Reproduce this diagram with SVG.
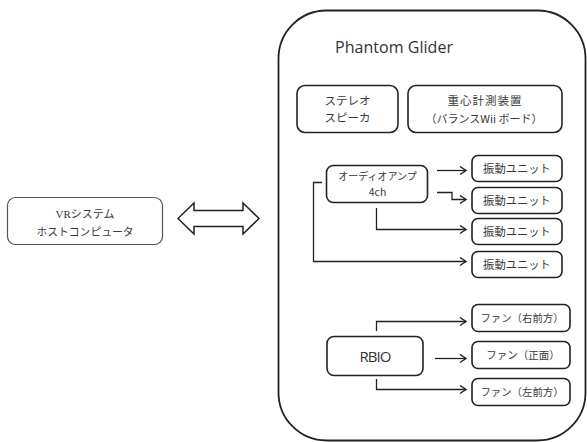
<svg xmlns="http://www.w3.org/2000/svg" width="587" height="442" viewBox="0 0 587 442">
<defs>
<style>
.box{fill:#fff;stroke:#222;stroke-width:1.6}
.t{font-family:"Noto Sans CJK JP","Noto Sans",sans-serif;fill:#3a3a3a;text-anchor:middle}
.lat{font-family:"Open Sans","Noto Sans",sans-serif;fill:#333}
.c{fill:none;stroke:#222;stroke-width:1.3}
</style>
<marker id="ah" markerWidth="10" markerHeight="10" refX="8" refY="5" orient="auto" markerUnits="userSpaceOnUse">
<path d="M2,1 L8,5 L2,9" fill="none" stroke="#222" stroke-width="1.4"/>
</marker>
</defs>
<rect width="587" height="442" fill="#fff"/>

<g id="host">
<rect x="7.5" y="197.5" width="155" height="47" rx="8" fill="#fff" stroke="#555" stroke-width="1.2"/>
<text x="85" y="218" class="t" style="font-family:'Liberation Serif','Noto Sans CJK JP',serif" font-size="11">VRシステム</text>
<text x="85" y="236" class="t" font-size="10.8">ホストコンピュータ</text>
</g>

<g id="link">
<polygon points="178,218.5 194,203 194,210.5 243,210.5 243,203 259,218.5 243,234 243,226.5 194,226.5 194,234" fill="#fff" stroke="#222" stroke-width="1.5" stroke-linejoin="miter"/>
</g>

<g id="glider">
<rect x="278.5" y="10.5" width="307" height="430" rx="48" fill="none" stroke="#222" stroke-width="1.8"/>
<text x="335" y="53" class="lat" font-size="16" textLength="118">Phantom Glider</text>
</g>

<g id="speaker">
<rect class="box" x="297" y="85.5" width="101" height="47" rx="8"/>
<text x="347.5" y="105" class="t" font-size="11.5">ステレオ</text>
<text x="347.5" y="122" class="t" font-size="11.5">スピーカ</text>
</g>

<g id="balance">
<rect class="box" x="408" y="85.5" width="154" height="47" rx="8"/>
<text x="485" y="105" class="t" font-size="11.5" letter-spacing="1">重心計測装置</text>
<text x="484" y="122.5" class="t" font-size="11">（バランスWii ボード）</text>
</g>

<g id="amp">
<rect class="box" x="326.5" y="165.5" width="101" height="37" rx="7"/>
<text x="377.5" y="180" class="t" font-size="10">オーディオアンプ</text>
<text x="377.5" y="196" class="t" font-size="10.5">4ch</text>
</g>

<g id="vib1"><rect class="box" x="472" y="155.5" width="90" height="26" rx="6"/><text x="517" y="173" class="t" font-size="11.3">振動ユニット</text></g>
<g id="vib2"><rect class="box" x="472" y="187.5" width="90" height="26" rx="6"/><text x="517" y="205" class="t" font-size="11.3">振動ユニット</text></g>
<g id="vib3"><rect class="box" x="472" y="218.5" width="90" height="26" rx="6"/><text x="517" y="236" class="t" font-size="11.3">振動ユニット</text></g>
<g id="vib4"><rect class="box" x="472" y="251.5" width="90" height="26" rx="6"/><text x="517" y="269" class="t" font-size="11.3">振動ユニット</text></g>

<g id="rbio">
<rect class="box" x="327" y="336.5" width="96" height="39" rx="7"/>
<text x="375.5" y="362" class="lat" font-size="15" text-anchor="middle" textLength="32">RBIO</text>
</g>

<g id="fan1"><rect class="box" x="472" y="304.5" width="98" height="27" rx="6"/><text x="522" y="322" class="t" font-size="10.4">ファン（右前方）</text></g>
<g id="fan2"><rect class="box" x="472" y="341.5" width="98" height="27" rx="6"/><text x="523" y="359" class="t" font-size="10.5">ファン（正面）</text></g>
<g id="fan3"><rect class="box" x="472" y="378.5" width="98" height="27" rx="6"/><text x="522" y="396" class="t" font-size="10.4">ファン（左前方）</text></g>

<g id="connectors">
<path class="c" marker-end="url(#ah)" d="M437,170.5 H466"/>
<path class="c" marker-end="url(#ah)" d="M437,192.5 H452 V199.5 H466"/>
<path class="c" marker-end="url(#ah)" d="M376.5,208 V229.5 H466"/>
<path class="c" marker-end="url(#ah)" d="M322,182.5 H313.5 V261.5 H466"/>
<path class="c" marker-end="url(#ah)" d="M376.5,331 V321.5 H466"/>
<path class="c" marker-end="url(#ah)" d="M435,358.5 H466"/>
<path class="c" marker-end="url(#ah)" d="M376.5,379 V389.5 H466"/>
</g>
</svg>
